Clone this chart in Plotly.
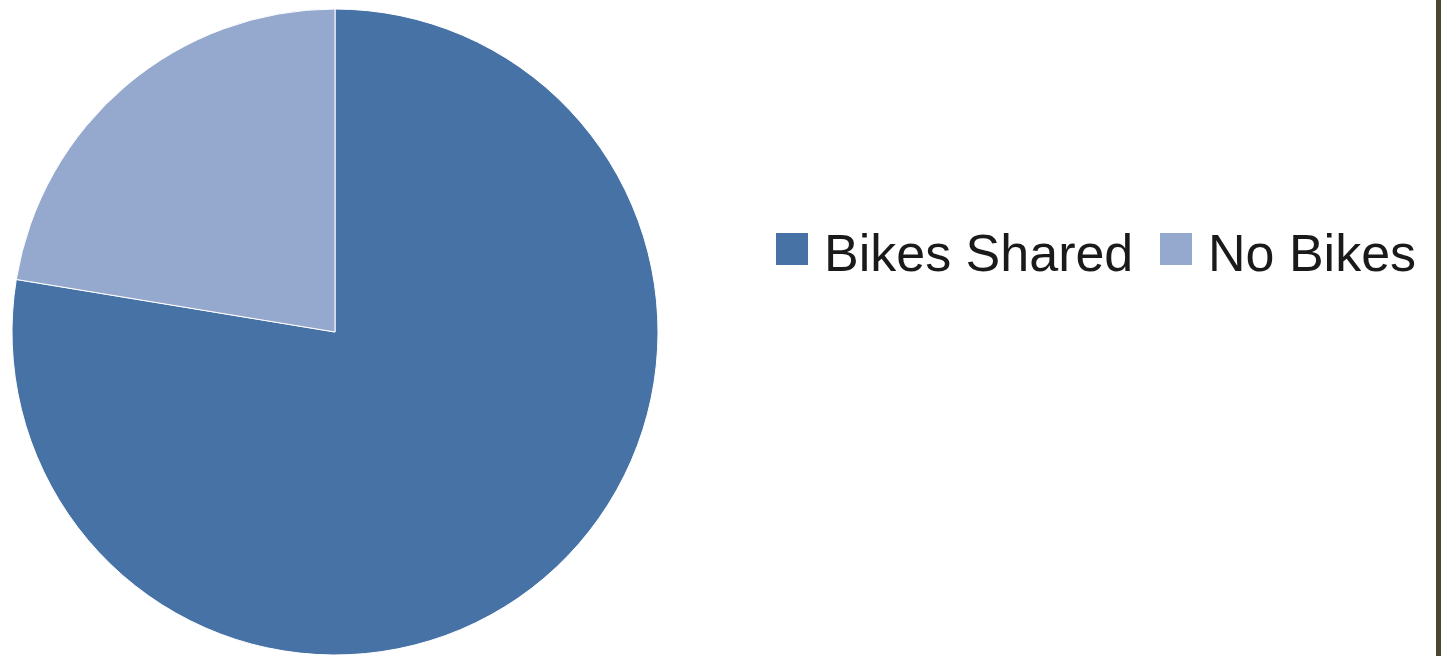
import plotly.graph_objects as go

# Data
labels = ['Bikes Shared', 'No Bikes']
values = [77.6, 22.4]
colors = ['#4672A6', '#95A9CF']

W, H = 1441, 656

fig = go.Figure(data=[go.Pie(
    labels=labels,
    values=values,
    marker=dict(colors=colors, line=dict(color='#FFFFFF', width=1)),
    sort=False,
    direction='clockwise',
    rotation=0,
    textinfo='none',
    hoverinfo='label+percent',
    showlegend=False,
    domain=dict(x=[12 / W, 658 / W], y=[1 / H, 647 / H]),
)])

# Custom legend (big square swatches + labels), laid out left to right
legend_x = [776, 1160]   # left edge of each swatch, in pixels
swatch = 32
y_mid = 249
for lab, col, x0 in zip(labels, colors, legend_x):
    fig.add_shape(
        type='rect', xref='paper', yref='paper',
        x0=x0 / W, x1=(x0 + swatch) / W,
        y0=(H - y_mid - swatch / 2) / H, y1=(H - y_mid + swatch / 2) / H,
        fillcolor=col, line=dict(width=0),
    )
    fig.add_annotation(
        text=lab, xref='paper', yref='paper',
        x=(x0 + swatch + 14) / W, y=(H - y_mid - 4) / H,
        xanchor='left', yanchor='middle', showarrow=False,
        font=dict(family='Liberation Sans, Arial, sans-serif', size=52, color='#1A1A1A'),
    )

# Dark frame edge on the right
fig.add_shape(
    type='line', xref='paper', yref='paper',
    x0=1438.5 / W, x1=1438.5 / W, y0=0, y1=1,
    line=dict(color='#4B4630', width=5),
)

fig.update_layout(
    width=W,
    height=H,
    margin=dict(l=0, r=0, t=0, b=0),
    paper_bgcolor='white',
    plot_bgcolor='white',
)

# drop the default 8px body margin so the figure sits flush in the window
fig.write_html(
    "out.html",
    config={'displayModeBar': False},
    post_script="document.body.style.margin='0';document.body.style.overflow='hidden';",
)
